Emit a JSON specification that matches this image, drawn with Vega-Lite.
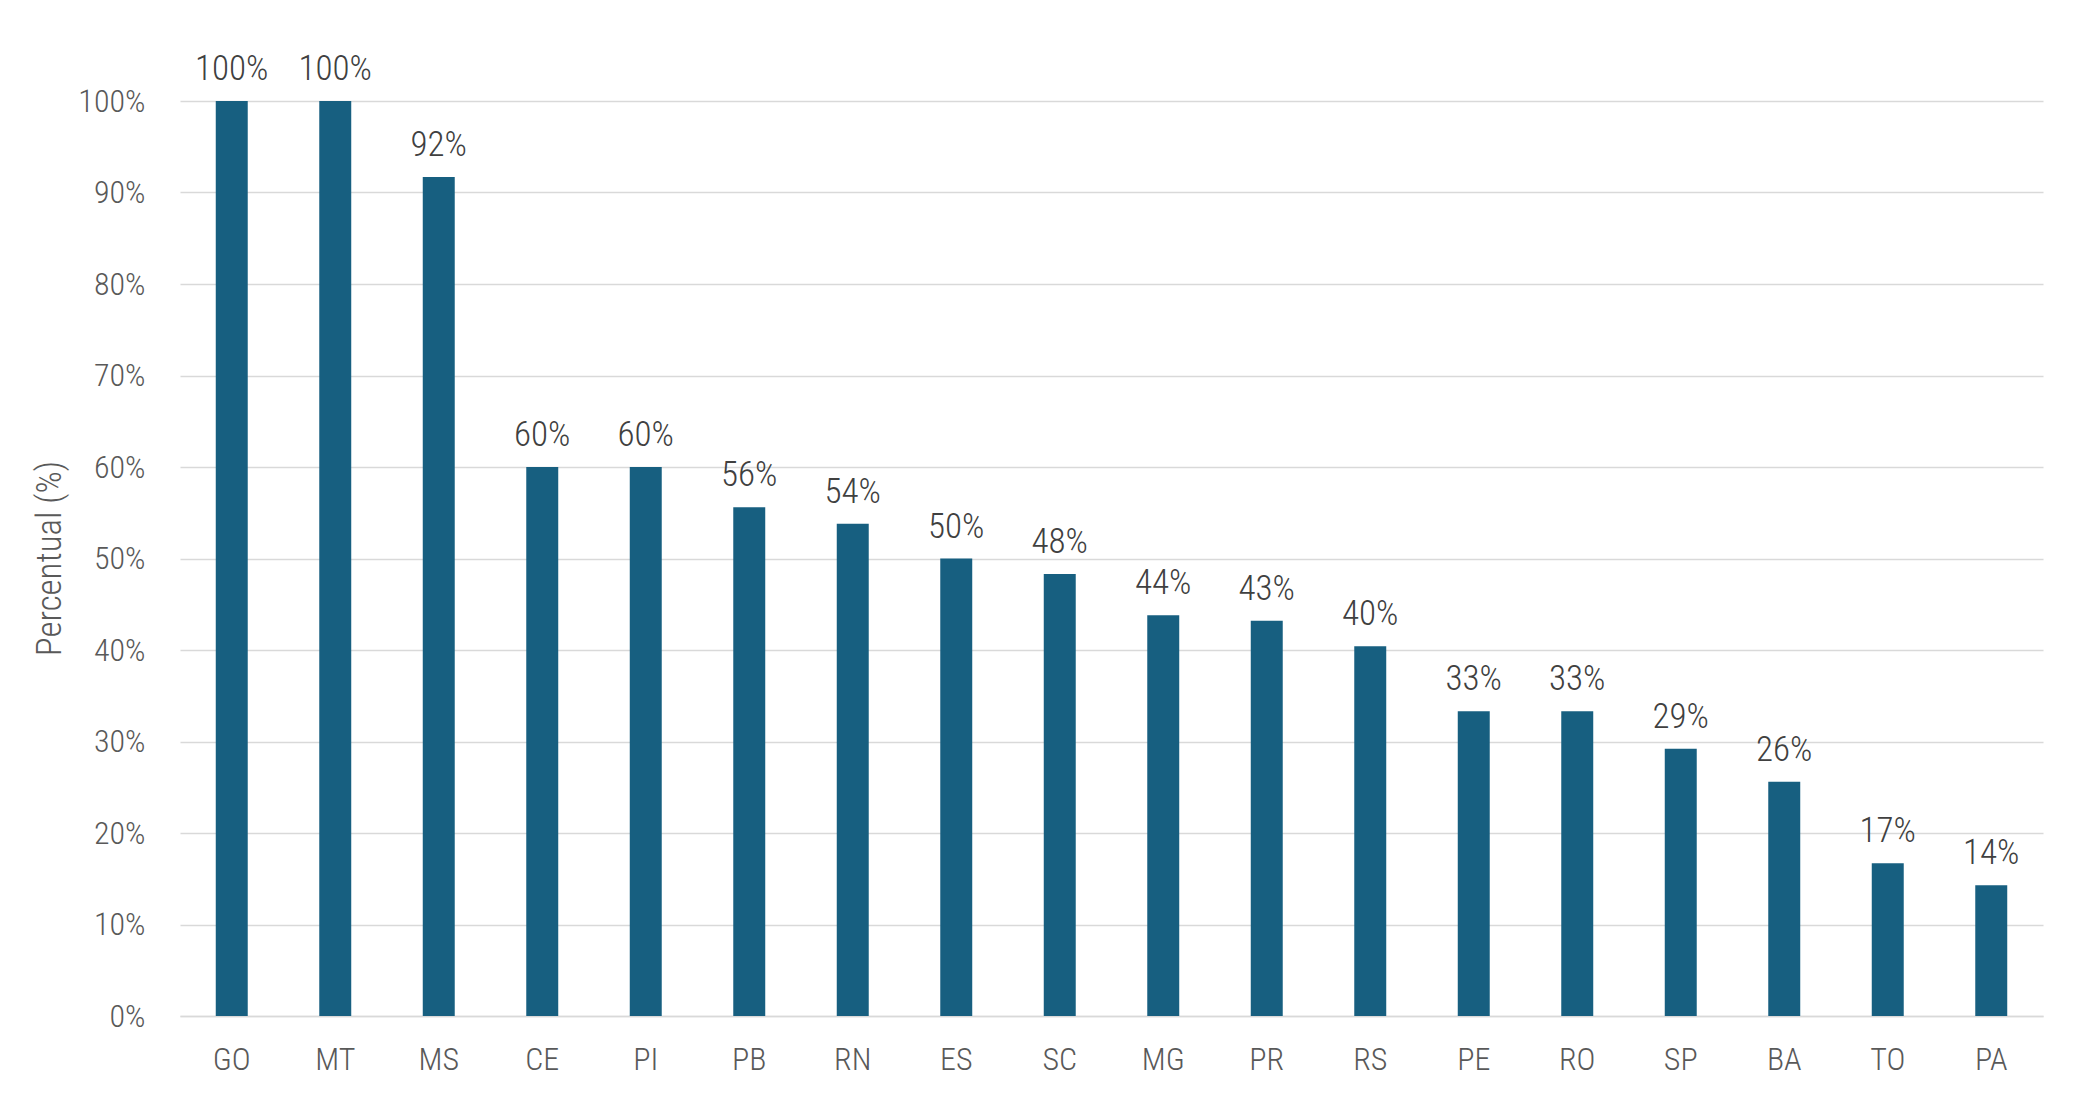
{
  "$schema": "https://vega.github.io/schema/vega-lite/v6.json",
  "width": 1863,
  "height": 915,
  "autosize": {"type": "none"},
  "padding": {"left": 180, "top": 101, "right": 37, "bottom": 102},
  "background": "white",
  "config": {
    "view": {"stroke": null},
    "font": "Liberation Sans Narrow, Roboto Condensed, DejaVu Sans Condensed, sans-serif"
  },
  "data": {
    "values": [
      {"uf": "GO", "pct": 1.0},
      {"uf": "MT", "pct": 1.0},
      {"uf": "MS", "pct": 0.917},
      {"uf": "CE", "pct": 0.6},
      {"uf": "PI", "pct": 0.6},
      {"uf": "PB", "pct": 0.556},
      {"uf": "RN", "pct": 0.538},
      {"uf": "ES", "pct": 0.5},
      {"uf": "SC", "pct": 0.483},
      {"uf": "MG", "pct": 0.438},
      {"uf": "PR", "pct": 0.432},
      {"uf": "RS", "pct": 0.404},
      {"uf": "PE", "pct": 0.333},
      {"uf": "RO", "pct": 0.333},
      {"uf": "SP", "pct": 0.292},
      {"uf": "BA", "pct": 0.256},
      {"uf": "TO", "pct": 0.167},
      {"uf": "PA", "pct": 0.143}
    ]
  },
  "encoding": {
    "x": {
      "field": "uf",
      "type": "nominal",
      "sort": null,
      "title": null,
      "scale": {"paddingInner": 0.691, "paddingOuter": 0.3455},
      "axis": {
        "labelAngle": 0,
        "labelFontSize": 32,
        "labelFontWeight": 300,
        "labelColor": "#595959",
        "labelPadding": 28,
        "ticks": false,
        "domainColor": "#d9d9d9",
        "domainWidth": 1.5,
        "grid": false
      }
    },
    "y": {
      "field": "pct",
      "type": "quantitative",
      "title": "Percentual (%)",
      "scale": {"domain": [0, 1], "nice": false},
      "axis": {
        "format": ".0%",
        "values": [0, 0.1, 0.2, 0.3, 0.4, 0.5, 0.6, 0.7, 0.8, 0.9, 1.0],
        "labelOverlap": false,
        "labelFontSize": 32,
        "labelFontWeight": 300,
        "labelColor": "#595959",
        "labelPadding": 35,
        "ticks": false,
        "domain": false,
        "gridColor": "#d9d9d9",
        "gridWidth": 1.5,
        "titleFontSize": 35,
        "titleFontWeight": 300,
        "titleColor": "#595959",
        "titleBaseline": "alphabetic",
        "titleAlign": "center",
        "titleAngle": -90,
        "titleX": -120,
        "titleY": 457
      }
    }
  },
  "layer": [
    {"mark": {"type": "bar", "color": "#175f80"}},
    {
      "mark": {
        "type": "text",
        "baseline": "alphabetic",
        "dy": -21,
        "fontSize": 35,
        "fontWeight": 300,
        "color": "#404040"
      },
      "encoding": {
        "text": {"field": "pct", "type": "quantitative", "format": ".0%"}
      }
    }
  ]
}
